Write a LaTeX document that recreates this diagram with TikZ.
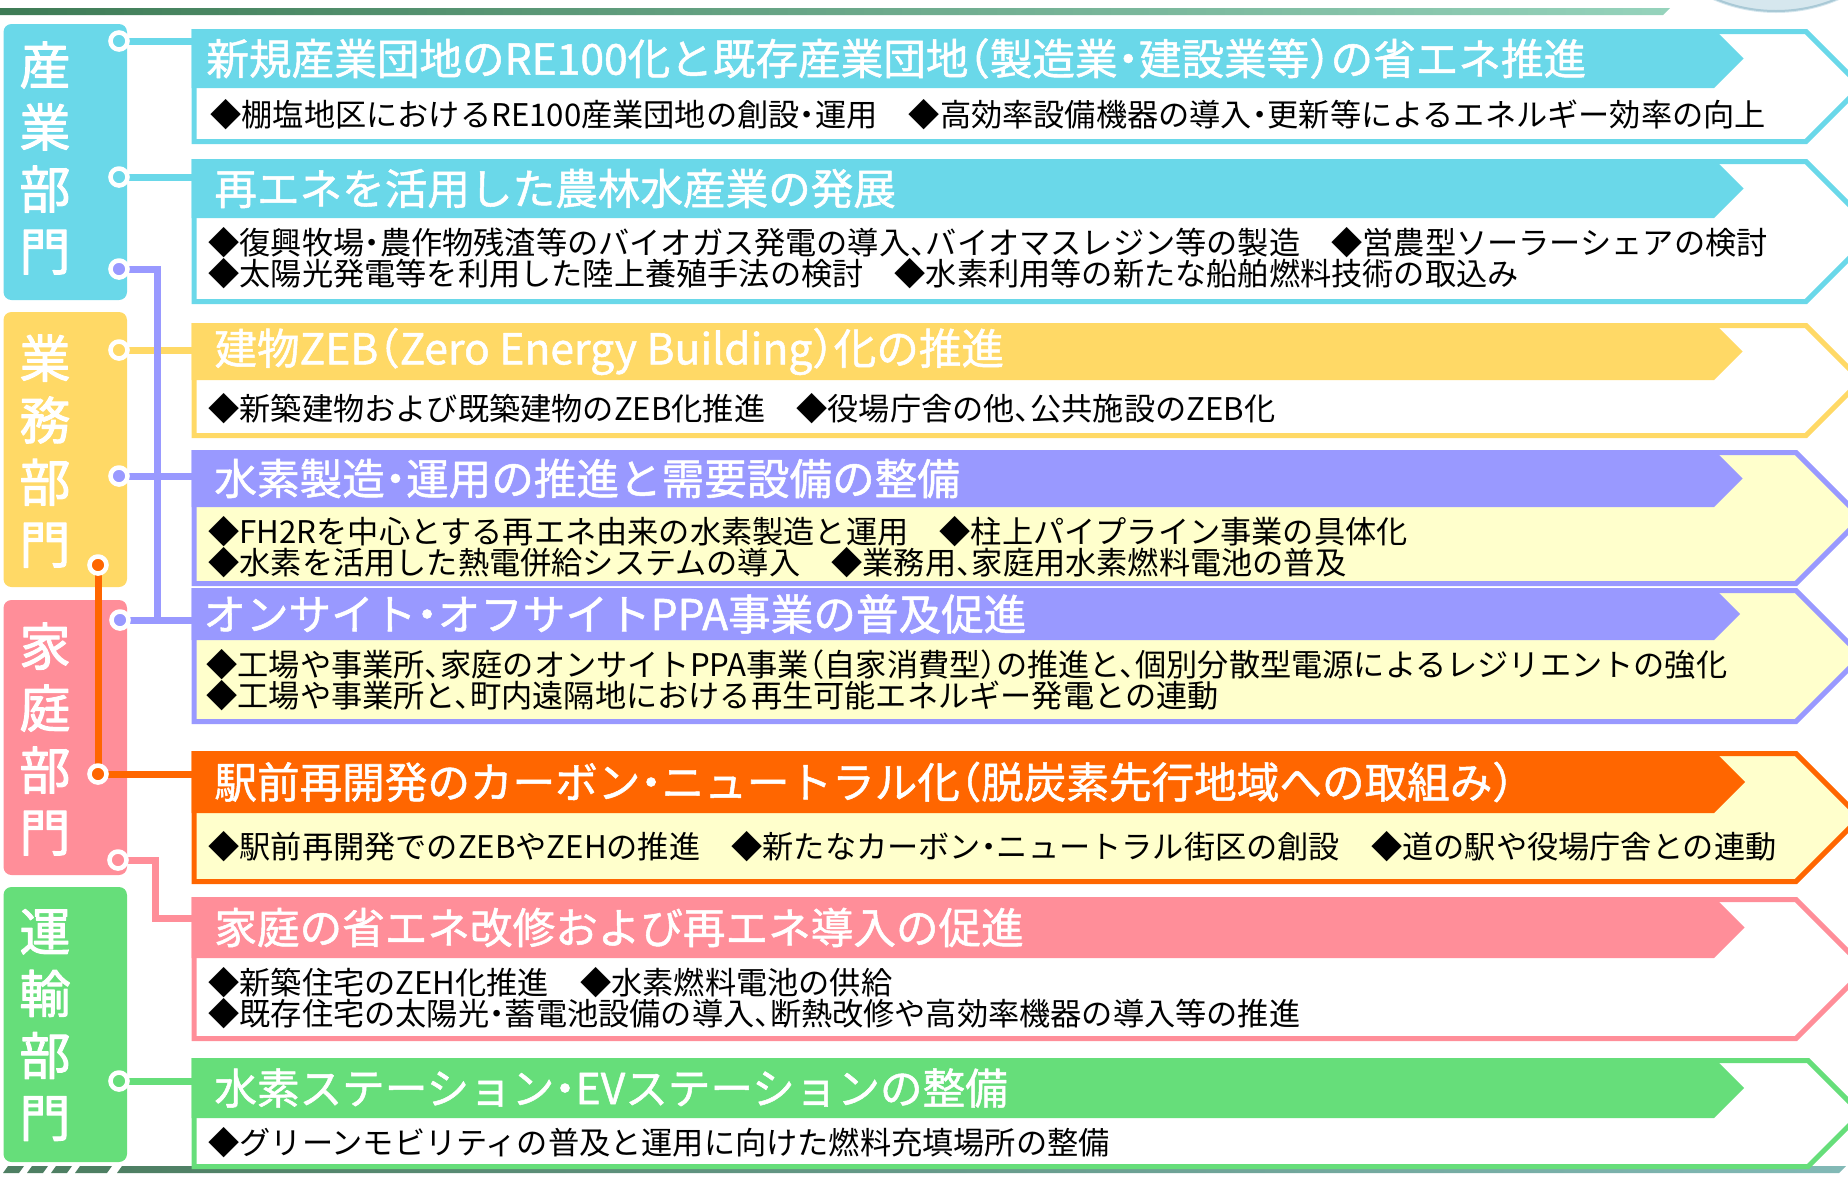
\documentclass[tikz,border=0pt]{standalone}
\usepackage{fontspec}
\setmainfont[CharacterWidth=AlternateHalf]{Noto Sans CJK JP}
\newfontfamily\headfont[CharacterWidth=AlternateHalf,FakeBold=1.2]{Noto Sans CJK JP}
\newfontfamily\secfont[FakeBold=2]{Noto Sans CJK JP}
\usepackage{xcolor}
\usepackage{tikz}
\usetikzlibrary{calc}
\definecolor{sky}{HTML}{6AD8E9}
\definecolor{sun}{HTML}{FFD966}
\definecolor{lilac}{HTML}{9999FF}
\definecolor{tangerine}{HTML}{FF6600}
\definecolor{rose}{HTML}{FF8E99}
\definecolor{leaf}{HTML}{66DE7A}
\definecolor{cream}{HTML}{FFFFCC}
\definecolor{topgreen}{HTML}{3E7B55}
\definecolor{topmint}{HTML}{96D3BC}
\definecolor{botgreen}{HTML}{4E7F63}
\definecolor{botteal}{HTML}{82B9B6}
\definecolor{globeblue}{HTML}{D6E7EE}
\definecolor{globerim}{HTML}{A9C9D6}
\tikzset{
    every picture/.style={line cap=round,line join=round},
    secbox/.style={fill=#1,rounded corners=4pt},
    sectext/.style={text=white,inner sep=0pt,align=center,
      font=\secfont\fontsize{25.5pt}{31pt}\selectfont},
    chevline/.style={draw=#1,line width=2.5pt,line join=miter},
    bandfill/.style={fill=#1},
    titletext/.style={anchor=west,inner sep=0pt,text=white,
      font=\headfont\fontsize{21.3pt}{24pt}\selectfont},
    bodytext/.style={anchor=west,inner sep=0pt,text=black,align=left,
      font=\fontsize{15.6pt}{15.7pt}\selectfont},
    linkline/.style={draw=#1,line width=3.5pt,line cap=butt,line join=miter},
    hubdot/.style={circle,draw=white,fill=#1,line width=2.3pt,
      minimum size=8.5pt,inner sep=0pt}
}

\begin{document}
\begin{tikzpicture}[x=0.5pt,y=-0.5pt]
  \useasboundingbox (0,0) rectangle (1848,1184);
  \clip (0,0) rectangle (1848,1184);

  % top and bottom rules
  \fill[globeblue] (1776,-146) circle [radius=159];
  \draw[globerim,line width=1pt] (1776,-146) circle [radius=157];
  \shade[left color=topgreen,right color=topmint] (0,8) -- (1670,8) -- (1663,15) -- (0,15) -- cycle;
  \fill[botgreen] (3,1173) -- (8,1166) -- (24,1166) -- (19,1173) -- cycle;
  \fill[botgreen] (27,1173) -- (32,1166) -- (48,1166) -- (43,1173) -- cycle;
  \fill[botgreen] (51,1173) -- (56,1166) -- (72,1166) -- (67,1173) -- cycle;
  \fill[botgreen] (75,1173) -- (80,1166) -- (112,1166) -- (107,1173) -- cycle;
  \shade[left color=botgreen,right color=botteal] (117,1173) -- (122,1166) -- (1846,1166) -- (1839,1173) -- cycle;

  % sectors
  \fill[secbox=sky] (3.5,24) rectangle (127,300);
  \node[sectext] (k1) at (45,158) {産\\業\\部\\門};
  \fill[secbox=sun] (3.5,312) rectangle (127,587);
  \node[sectext] (k2) at (45,451) {業\\務\\部\\門};
  \fill[secbox=rose] (3.5,600) rectangle (127,875);
  \node[sectext] (k3) at (45,739) {家\\庭\\部\\門};
  \fill[secbox=leaf] (3.5,887) rectangle (127,1162);
  \node[sectext] (k4) at (45,1025) {運\\輸\\部\\門};

  % measures
  \draw[chevline=sky,fill=white] (194,31.5) -- (1806,31.5) -- (1861,86.5) -- (1806,141.5) -- (194,141.5) -- cycle;
  \fill[bandfill=sky] (191.5,29) -- (1714,29) -- (1743.5,58.5) -- (1714,88) -- (191.5,88) -- cycle;
  \node[titletext] (t1) at (206,58.5) {新規産業団地のRE100化と既存産業団地（製造業・建設業等）の省エネ推進};
  \node[bodytext] (d1) at (210,115) {◆棚塩地区におけるRE100産業団地の創設・運用　◆高効率設備機器の導入・更新等によるエネルギー効率の向上};

  \draw[chevline=sky,fill=white] (194,161.5) -- (1806,161.5) -- (1876,231.5) -- (1806,301.5) -- (194,301.5) -- cycle;
  \fill[bandfill=sky] (191.5,159) -- (1714,159) -- (1743.5,188.5) -- (1714,218) -- (191.5,218) -- cycle;
  \node[titletext] (t2) at (214,188.5) {再エネを活用した農林水産業の発展};
  \node[bodytext] (d2) at (208,258) {◆復興牧場・農作物残渣等のバイオガス発電の導入、バイオマスレジン等の製造　◆営農型ソーラーシェアの検討\\◆太陽光発電等を利用した陸上養殖手法の検討　◆水素利用等の新たな船舶燃料技術の取込み};

  \draw[chevline=sun,fill=white] (194,325.5) -- (1806,325.5) -- (1861,380.5) -- (1806,435.5) -- (194,435.5) -- cycle;
  \fill[bandfill=sun] (191.5,323) -- (1714,323) -- (1742.5,351.5) -- (1714,380) -- (191.5,380) -- cycle;
  \node[titletext] (t3) at (214,351.5) {建物ZEB（Zero Energy Building）化の推進};
  \node[bodytext] (d3) at (208,409) {◆新築建物および既築建物のZEB化推進　◆役場庁舎の他、公共施設のZEB化};

  \draw[chevline=lilac,fill=cream] (194,452.5) -- (1796,452.5) -- (1861.5,518) -- (1796,583.5) -- (194,583.5) -- cycle;
  \fill[bandfill=lilac] (191.5,450) -- (1714,450) -- (1742.5,478.5) -- (1714,507) -- (191.5,507) -- cycle;
  \node[titletext] (t4) at (214,478.5) {水素製造・運用の推進と需要設備の整備};
  \node[bodytext] (d4) at (208,547) {◆FH2Rを中心とする再エネ由来の水素製造と運用　◆柱上パイプライン事業の具体化\\◆水素を活用した熱電併給システムの導入　◆業務用、家庭用水素燃料電池の普及};

  \draw[chevline=lilac,fill=cream] (194,590.5) -- (1796,590.5) -- (1861.5,656) -- (1796,721.5) -- (194,721.5) -- cycle;
  \fill[bandfill=lilac] (191.5,588) -- (1714,588) -- (1740,614) -- (1714,640) -- (191.5,640) -- cycle;
  \node[titletext] (t5) at (203,614) {オンサイト・オフサイトPPA事業の普及促進};
  \node[bodytext] (d5) at (206,680) {◆工場や事業所、家庭のオンサイトPPA事業（自家消費型）の推進と、個別分散型電源によるレジリエントの強化\\◆工場や事業所と、町内遠隔地における再生可能エネルギー発電との連動};

  \draw[chevline=tangerine,fill=cream] (194,753.5) -- (1796,753.5) -- (1860,817.5) -- (1796,881.5) -- (194,881.5) -- cycle;
  \fill[bandfill=tangerine] (191.5,751) -- (1714,751) -- (1745,782) -- (1714,813) -- (191.5,813) -- cycle;
  \node[titletext] (t6) at (214,782) {駅前再開発のカーボン・ニュートラル化（脱炭素先行地域への取組み）};
  \node[bodytext] (d6) at (208,847) {◆駅前再開発でのZEBやZEHの推進　◆新たなカーボン・ニュートラル街区の創設　◆道の駅や役場庁舎との連動};

  \draw[chevline=rose,fill=white] (194,899.5) -- (1796,899.5) -- (1865.5,969) -- (1796,1038.5) -- (194,1038.5) -- cycle;
  \fill[bandfill=rose] (191.5,897) -- (1714,897) -- (1744.5,927.5) -- (1714,958) -- (191.5,958) -- cycle;
  \node[titletext] (t7) at (214,927.5) {家庭の省エネ改修および再エネ導入の促進};
  \node[bodytext] (d7) at (208,998) {◆新築住宅のZEH化推進　◆水素燃料電池の供給\\◆既存住宅の太陽光・蓄電池設備の導入、断熱改修や高効率機器の導入等の推進};

  \draw[chevline=leaf,fill=white] (194,1060.5) -- (1808,1060.5) -- (1861,1113.5) -- (1808,1166.5) -- (194,1166.5) -- cycle;
  \fill[bandfill=leaf] (191.5,1058) -- (1714,1058) -- (1744,1088) -- (1714,1118) -- (191.5,1118) -- cycle;
  \node[titletext] (t8) at (214,1088) {水素ステーション・EVステーションの整備};
  \node[bodytext] (d8) at (208,1143) {◆グリーンモビリティの普及と運用に向けた燃料充填場所の整備};

  % links from sectors to measures
  \coordinate (s1) at (119,41);
  \coordinate (s2) at (119,177);
  \coordinate (s3) at (119,269);
  \coordinate (s4) at (119,350);
  \coordinate (s5) at (119,476);
  \coordinate (s6) at (98,565);
  \coordinate (s7) at (120,620);
  \coordinate (s8) at (98,774);
  \coordinate (s9) at (118,860);
  \coordinate (s10) at (119,1081);
  \coordinate (j7) at (155,918);

  \draw[linkline=sky] (s1) -- (s1 -| t1.west);
  \draw[linkline=sky] (s2) -- (s2 -| t2.west);
  \draw[linkline=sun] (s4) -- (s4 -| t3.west);
  \draw[linkline=lilac] (s3) -- ++(38,0) |- (s7);
  \draw[linkline=lilac] (s5) -- (s5 -| t4.west);
  \draw[linkline=lilac] (s7) -- (s7 -| t5.west);
  \draw[linkline=tangerine] (s6) -- (s8) -- (s8 -| t6.west);
  \draw[linkline=rose] (s9) -| (j7) -- (j7 -| t7.west);
  \draw[linkline=leaf] (s10) -- (s10 -| t8.west);

  \node[hubdot=sky] at (s1) {};
  \node[hubdot=sky] at (s2) {};
  \node[hubdot=lilac] at (s3) {};
  \node[hubdot=sun] at (s4) {};
  \node[hubdot=lilac] at (s5) {};
  \node[hubdot=tangerine] at (s6) {};
  \node[hubdot=lilac] at (s7) {};
  \node[hubdot=tangerine] at (s8) {};
  \node[hubdot=rose] at (s9) {};
  \node[hubdot=leaf] at (s10) {};
\end{tikzpicture}
\end{document}
